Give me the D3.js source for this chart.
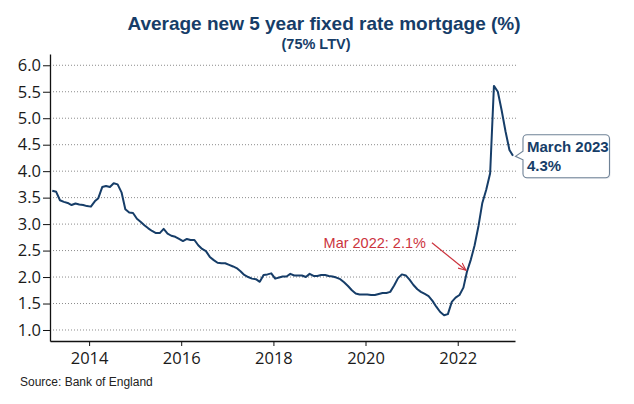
<!DOCTYPE html>
<html><head><meta charset="utf-8">
<script src="https://cdn.jsdelivr.net/npm/d3@7"></script>
<style>
html,body{margin:0;padding:0;background:#fff;}
svg{display:block;}
</style>
</head><body>
<svg id="c" width="634" height="404"></svg>
<script>
// ---- Data (monthly, Mar 2013 - Mar 2023) ----
const startMonth = "2013-03";
const rates = [
 3.63,3.61,3.45,3.42,3.40,3.36,3.39,3.37,3.36,3.34,   // Mar13-Dec13
 3.33,3.43,3.49,3.70,3.72,3.70,3.77,3.75,3.60,3.28,3.22,3.21, // 2014
 3.10,3.04,2.98,2.92,2.87,2.83,2.83,2.91,2.82,2.78,2.76,2.72, // 2015
 2.68,2.72,2.70,2.70,2.60,2.53,2.49,2.38,2.32,2.27,2.26,2.26, // 2016
 2.23,2.20,2.17,2.11,2.04,2.00,1.97,1.96,1.91,2.04,2.05,2.07, // 2017
 1.97,1.99,2.01,2.01,2.06,2.03,2.03,2.03,2.00,2.06,2.02,2.02, // 2018
 2.04,2.04,2.02,2.01,1.99,1.96,1.90,1.83,1.75,1.69,1.67,1.67, // 2019
 1.67,1.66,1.66,1.68,1.70,1.70,1.72,1.84,1.98,2.05,2.03,1.95, // 2020
 1.85,1.77,1.72,1.68,1.64,1.55,1.44,1.34,1.28,1.30,1.53,1.61, // 2021
 1.66,1.80,2.10,2.33,2.60,2.97,3.40,3.65,3.96,5.61,5.50,5.15, // 2022
 4.75,4.40,4.29                                              // 2023
];
const yTicks = [1.0,1.5,2.0,2.5,3.0,3.5,4.0,4.5,5.0,5.5,6.0];
const xTickYears = [2014,2016,2018,2020,2022];
const titleText = "Average new 5 year fixed rate mortgage (%)";
const subtitleText = "(75% LTV)";
const sourceText = "Source: Bank of England";
const noteText = "Mar 2022: 2.1%";
const noteIndex = 108;
const calloutLines = ["March 2023","4.3%"];

// ---- Build ----
const [sy, sm] = startMonth.split("-").map(Number);
const data = rates.map((v,i)=>({date:new Date(sy, sm-1+i, 15), v}));

const svg = d3.select("#c");
const navy = "#163d68";
const x = d3.scaleTime().domain([new Date(2013,1,25), new Date(2023,2,31)]).range([50,515]);
const y = d3.scaleLinear().domain([0.792,6.213]).range([341,54]);

// title
svg.append("text").attr("x",324).attr("y",30).attr("text-anchor","middle")
  .attr("font-family","Liberation Sans, Arial, sans-serif").attr("font-weight","bold")
  .attr("font-size",19).attr("fill",navy).text(titleText);
svg.append("text").attr("x",316).attr("y",48.5).attr("text-anchor","middle")
  .attr("font-family","Liberation Sans, Arial, sans-serif").attr("font-weight","bold")
  .attr("font-size",14.5).attr("fill",navy).text(subtitleText);

// gridlines
svg.append("g").selectAll("line").data(yTicks).join("line")
  .attr("x1",50).attr("x2",517).attr("y1",d=>y(d)).attr("y2",d=>y(d))
  .attr("stroke","#8c8c8c").attr("stroke-width",1).attr("stroke-dasharray","1,2");

// y axis
const yAxis = svg.append("g").attr("transform","translate(50,0)")
  .call(d3.axisLeft(y).tickValues(yTicks).tickFormat(d3.format(".1f")).tickSize(7).tickPadding(2).tickSizeOuter(0));
yAxis.select(".domain").attr("stroke","#111").attr("stroke-width",1.3);
yAxis.selectAll(".tick line").attr("stroke","#111");
yAxis.selectAll("text").attr("font-family","Open Sans, sans-serif").attr("font-size",16.5).attr("fill","#1a1a1a");

// x axis
const xAxis = svg.append("g").attr("transform","translate(0,341)")
  .call(d3.axisBottom(x).tickValues(xTickYears.map(yv=>new Date(yv,0,1))).tickFormat(d3.timeFormat("%Y")).tickSize(5).tickPadding(6).tickSizeOuter(0));
xAxis.select(".domain").attr("stroke","#111").attr("stroke-width",1.3);
xAxis.selectAll(".tick line").attr("stroke","#111");
xAxis.selectAll("text").attr("font-family","Open Sans, sans-serif").attr("font-size",16.5).attr("fill","#1a1a1a");

// line
svg.append("path").datum(data)
  .attr("d", d3.line().x(d=>x(d.date)).y(d=>y(d.v)))
  .attr("fill","none").attr("stroke",navy).attr("stroke-width",2).attr("stroke-linejoin","round");

// red annotation
const red = "#cc333d";
svg.append("defs").append("marker").attr("id","ah").attr("viewBox","0 0 10 10")
  .attr("refX",9).attr("refY",5).attr("markerWidth",7).attr("markerHeight",7).attr("orient","auto")
  .append("path").attr("d","M0,1 L9,5 L0,9").attr("fill","none").attr("stroke",red).attr("stroke-width",1.3);
const np = data[noteIndex];
const nx = x(np.date), ny = y(np.v);
svg.append("line").attr("x1",nx-35).attr("y1",ny-29).attr("x2",nx-1).attr("y2",ny-1.5)
  .attr("stroke",red).attr("stroke-width",1.2).attr("marker-end","url(#ah)");
svg.append("text").attr("x",nx-41).attr("y",ny-24).attr("text-anchor","end")
  .attr("font-family","Liberation Sans, Arial, sans-serif").attr("font-size",14.5)
  .attr("fill",red).text(noteText);

// callout
const lp = data[data.length-1];
const tx = x(lp.date)+2.5, ty = y(lp.v)+0.5;
const bx0 = tx+7.5, bx1 = bx0+86.5, by0 = ty-21.5, by1 = ty+21.5, r = 4;
const p = d3.path();
p.moveTo(bx0+r,by0); p.lineTo(bx1-r,by0); p.arcTo(bx1,by0,bx1,by0+r,r);
p.lineTo(bx1,by1-r); p.arcTo(bx1,by1,bx1-r,by1,r);
p.lineTo(bx0+r,by1); p.arcTo(bx0,by1,bx0,by1-r,r);
p.lineTo(bx0,ty+3.5); p.lineTo(tx,ty); p.lineTo(bx0,ty-5);
p.lineTo(bx0,by0+r); p.arcTo(bx0,by0,bx0+r,by0,r); p.closePath();
svg.append("path").attr("d",p.toString()).attr("transform","translate(1,1)")
  .attr("fill","#e6e9ee").attr("stroke","none");
svg.append("path").attr("d",p.toString()).attr("fill","#fff").attr("stroke","#6f8296").attr("stroke-width",1.1);
calloutLines.forEach((t,i)=>{
  svg.append("text").attr("x",bx0+4).attr("y",ty-4+i*19)
    .attr("font-family","Liberation Sans, Arial, sans-serif").attr("font-weight","bold")
    .attr("font-size",15).attr("fill",navy).text(t);
});

// source
svg.append("text").attr("x",20).attr("y",386)
  .attr("font-family","Liberation Sans, Arial, sans-serif").attr("font-size",12)
  .attr("fill","#222").text(sourceText);
</script>
</body></html>
